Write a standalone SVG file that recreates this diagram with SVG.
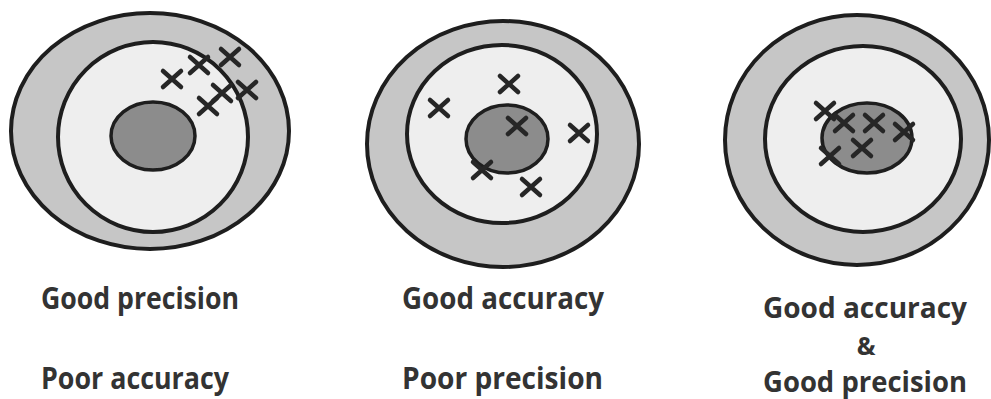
<svg xmlns="http://www.w3.org/2000/svg" xmlns:xlink="http://www.w3.org/1999/xlink" width="991" height="399" viewBox="0 0 991 399">
<style>
.outer{fill:#c6c6c6;stroke:#1e1e1e;stroke-width:4}
.mid{fill:#eeeeee;stroke:#1e1e1e;stroke-width:4}
.bull{fill:#8c8c8c;stroke:#1e1e1e;stroke-width:3.5}
.hit{fill:none;stroke:#262626;stroke-width:4.5;stroke-linecap:round}
.lbl{font-family:"Comic Sans MS","Open Sans","DejaVu Sans",sans-serif;font-weight:700;font-size:30px;fill:#333}
.sm{font-size:29px}
.amp{font-size:25px}
</style>
<defs>
<path id="x" d="M-9,-8 L9,8 M-9,8 L9,-8"/>
</defs>
<rect width="991" height="399" fill="#fff"/>
<g id="target1">
<ellipse class="outer" cx="150" cy="131" rx="139" ry="118"/>
<ellipse class="mid" cx="153" cy="137" rx="95" ry="95"/>
<ellipse class="bull" cx="153" cy="136" rx="42" ry="34"/>
<g class="hit">
<use xlink:href="#x" x="172" y="79"/>
<use xlink:href="#x" x="199" y="65"/>
<use xlink:href="#x" x="230" y="57"/>
<use xlink:href="#x" x="208" y="106"/>
<use xlink:href="#x" x="222" y="93"/>
<use xlink:href="#x" x="247" y="90"/>
</g>
</g>
<g id="target2">
<ellipse class="outer" cx="503" cy="144" rx="136" ry="123"/>
<ellipse class="mid" cx="502" cy="134" rx="95" ry="89"/>
<ellipse class="bull" cx="507" cy="139" rx="41" ry="34"/>
<g class="hit">
<use xlink:href="#x" x="509" y="84"/>
<use xlink:href="#x" x="439" y="108"/>
<use xlink:href="#x" x="517" y="126"/>
<use xlink:href="#x" x="579" y="133"/>
<use xlink:href="#x" x="482" y="170"/>
<use xlink:href="#x" x="531" y="187"/>
</g>
</g>
<g id="target3">
<ellipse class="outer" cx="857" cy="140" rx="132" ry="125"/>
<ellipse class="mid" cx="863" cy="139" rx="98" ry="93"/>
<ellipse class="bull" cx="867" cy="138" rx="45" ry="35"/>
<g class="hit">
<use xlink:href="#x" x="825" y="111"/>
<use xlink:href="#x" x="844" y="123"/>
<use xlink:href="#x" x="874" y="123"/>
<use xlink:href="#x" x="904" y="132"/>
<use xlink:href="#x" x="862" y="148"/>
<use xlink:href="#x" x="830" y="156"/>
</g>
</g>
<g id="labels">
<text class="lbl" x="41" y="309" textLength="198" lengthAdjust="spacingAndGlyphs">Good precision</text>
<text class="lbl" x="41" y="389" textLength="188" lengthAdjust="spacingAndGlyphs">Poor accuracy</text>
<text class="lbl" x="402" y="309" textLength="202" lengthAdjust="spacingAndGlyphs">Good accuracy</text>
<text class="lbl" x="402" y="389" textLength="201" lengthAdjust="spacingAndGlyphs">Poor precision</text>
<text class="lbl sm" x="763" y="318" textLength="204" lengthAdjust="spacingAndGlyphs">Good accuracy</text>
<text class="lbl amp" x="866" y="355" text-anchor="middle">&amp;</text>
<text class="lbl sm" x="763" y="392" textLength="204" lengthAdjust="spacingAndGlyphs">Good precision</text>
</g>
</svg>
